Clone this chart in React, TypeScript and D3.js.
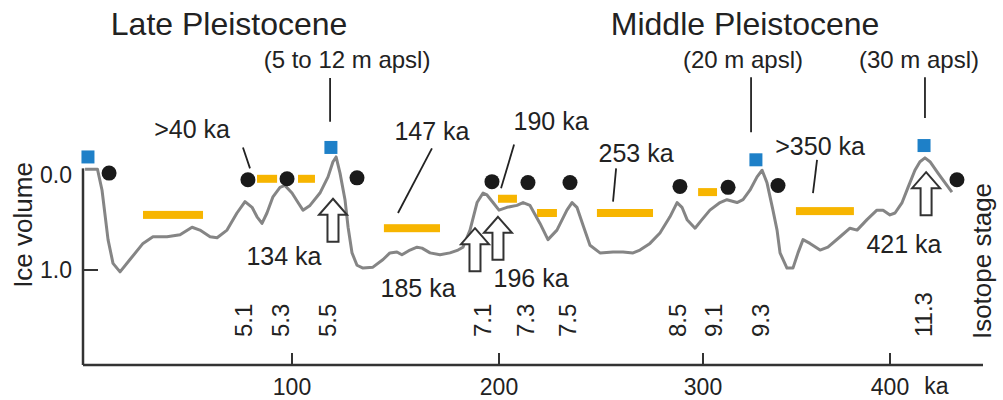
import React from "react";
import * as d3 from "d3";

// ice volume curve: [age ka, relative ice volume]
const curve: [number, number][] = [
  [0, -0.06], [6, -0.06], [8.2, 0.16], [11.1, 0.68], [13.5, 0.93], [16.9, 1.02],
  [21.7, 0.89], [28, 0.72], [32.8, 0.65], [39.6, 0.65], [45.9, 0.63], [51.7, 0.55],
  [55.5, 0.58], [60.4, 0.65], [63.8, 0.66], [68.6, 0.58], [73.4, 0.4], [77.3, 0.28],
  [80.7, 0.34], [83.1, 0.44], [85.5, 0.51], [87.9, 0.4], [90.8, 0.23], [94.2, 0.13],
  [96.6, 0.11], [100, 0.19], [102.9, 0.29], [105.3, 0.37], [108.7, 0.32], [113.5, 0.19],
  [117.4, 0.02], [119.8, -0.14], [121.3, -0.19], [123.2, -0.02], [125.6, 0.26],
  [127.1, 0.55], [129, 0.82], [131.4, 0.95], [134.3, 0.98], [139.1, 0.97], [144, 0.89],
  [147.3, 0.82], [150.7, 0.81], [153.1, 0.84], [157, 0.79], [160.4, 0.76], [162.8, 0.77],
  [166.7, 0.82], [171.5, 0.84], [176.3, 0.82], [180.2, 0.79], [182.6, 0.76], [186, 0.58],
  [189.4, 0.29], [192.3, 0.19], [194.2, 0.21], [197.1, 0.29], [200, 0.37], [203.9, 0.34],
  [208.8, 0.32], [211.8, 0.29], [215.2, 0.32], [220.1, 0.51], [224, 0.68], [228.4, 0.58],
  [233.3, 0.37], [235.8, 0.29], [238.2, 0.34], [241.2, 0.53], [244.6, 0.74], [249.5, 0.82],
  [255.9, 0.81], [260.8, 0.81], [265.7, 0.82], [269.1, 0.79], [274, 0.72], [278.9, 0.61],
  [283.8, 0.44], [287.3, 0.29], [289.7, 0.34], [292.2, 0.47], [296.1, 0.56], [299.5, 0.47],
  [303.7, 0.37], [309.1, 0.29], [312.8, 0.26], [318.2, 0.29], [321.4, 0.26], [325.1, 0.16],
  [328.9, 0.02], [331.6, -0.05], [334.2, 0.08], [337.4, 0.37], [339.6, 0.58], [341.2, 0.82],
  [344.9, 0.98], [348.1, 0.98], [350.8, 0.82], [353.5, 0.68], [357.2, 0.72], [362.6, 0.79],
  [366.8, 0.76], [373.3, 0.65], [378.6, 0.56], [382.4, 0.58], [387.7, 0.47], [393, 0.37],
  [396.3, 0.37], [400, 0.42], [402.7, 0.4], [406.5, 0.29], [409.7, 0.13], [413.4, -0.05],
  [416.1, -0.14], [418.8, -0.18], [421.5, -0.14], [425.8, -0.02], [430.6, 0.11], [433.3, 0.18],
];

// highstand markers
const blueSquares: [number, number][] = [[1.4, -0.19], [118.8, -0.29], [328.3, -0.16], [418.3, -0.31]];
const blackDots: [number, number][] = [
  [11.6, -0.02], [78.7, 0.05], [97.6, 0.04], [131.4, 0.03], [196.6, 0.07], [214.2, 0.08],
  [234.8, 0.08], [288.7, 0.12], [313.4, 0.13], [340.1, 0.11], [436, 0.05],
];
// dated ranges: [from ka, to ka, level]
const orangeBars: [number, number, number][] = [
  [28, 57, 0.42], [83.1, 92.8, 0.04], [102.9, 111.1, 0.04], [144.4, 171.5, 0.56],
  [199.5, 208.8, 0.25], [218.6, 228.4, 0.4], [248, 275.5, 0.4], [297.6, 307.5, 0.18],
  [349.7, 380.7, 0.38],
];
// arrows: [ka, tip level]
const arrows: [number, number][] = [[119.8, 0.25], [188.4, 0.56], [199.5, 0.44], [419.4, -0.03]];

const ageLabels: { text: string; ka: number; v: number }[] = [
  { text: ">40 ka", ka: 51.7, v: -0.39 },
  { text: "147 ka", ka: 167.6, v: -0.37 },
  { text: "190 ka", ka: 225.5, v: -0.47 },
  { text: "253 ka", ka: 267.2, v: -0.14 },
  { text: ">350 ka", ka: 362.6, v: -0.21 },
  { text: "134 ka", ka: 96.1, v: 0.95 },
  { text: "185 ka", ka: 160.9, v: 1.28 },
  { text: "196 ka", ka: 215.7, v: 1.18 },
  { text: "421 ka", ka: 407.5, v: 0.82 },
];
const leaders: [number, number, number, number][] = [
  [76.3, -0.29, 79.7, -0.07],
  [167.6, -0.28, 151.2, 0.4],
  [207.4, -0.32, 201, 0.14],
  [257.4, -0.07, 255.9, 0.28],
  [361, -0.16, 358.8, 0.19],
  [118.4, -1.02, 118.4, -0.56],
  [325.7, -1.03, 325.7, -0.45],
  [418.8, -1.03, 418.8, -0.6],
];
const apslLabels: { text: string; ka: number }[] = [
  { text: "(5 to 12 m apsl)", ka: 126.6 },
  { text: "(20 m apsl)", ka: 321.4 },
  { text: "(30 m apsl)", ka: 415.6 },
];
const periods: { text: string; ka: number }[] = [
  { text: "Late Pleistocene", ka: 69.6 },
  { text: "Middle Pleistocene", ka: 322.5 },
];
const stages: { text: string; ka: number }[] = [
  { text: "5.1", ka: 76.3 }, { text: "5.3", ka: 94.2 }, { text: "5.5", ka: 116.9 },
  { text: "7.1", ka: 191.8 }, { text: "7.3", ka: 212.7 }, { text: "7.5", ka: 233.3 },
  { text: "8.5", ka: 287.3 }, { text: "9.1", ka: 305.3 }, { text: "9.3", ka: 330.5 },
  { text: "11.3", ka: 417.7 },
];
const xTicks = [100, 200, 300, 400];
const yTicks = [{ v: 0, label: "0.0" }, { v: 1, label: "1.0" }];

const W = 1003;
const H = 400;
const FONT = "'Liberation Sans', Arial, sans-serif";
const INK = "#222";

export default function App() {
  const x = d3.scaleLinear().domain([-1, 100, 200, 300, 400, 450]).range([83, 292, 499, 703, 890, 983]);
  const y = d3.scaleLinear().domain([0, 1]).range([175, 270]);
  const axisY = y(2.0);

  const line = d3.line<[number, number]>().x(d => x(d[0])).y(d => y(d[1]));

  const arrowPath = (tx: number, ty: number) =>
    `M${tx},${ty} L${tx + 14},${ty + 16} L${tx + 5.5},${ty + 16} L${tx + 5.5},${ty + 43} L${tx - 5.5},${ty + 43} L${tx - 5.5},${ty + 16} L${tx - 14},${ty + 16} Z`;

  return (
    <svg width={W} height={H} style={{ position: "absolute", left: 0, top: 0, background: "#fff" }} fontFamily={FONT}>
      {/* axes */}
      <line x1={x(-1)} x2={x(-1)} y1={y(-0.07)} y2={axisY} stroke="#333" strokeWidth={2.5} />
      <line x1={x(-1)} x2={x(450)} y1={axisY} y2={axisY} stroke="#333" strokeWidth={2.5} />
      {xTicks.map(t => (
        <g key={t}>
          <line x1={x(t)} x2={x(t)} y1={axisY} y2={axisY - 12} stroke="#333" strokeWidth={2} />
          <text x={x(t)} y={395} textAnchor="middle" fontSize={23} fill={INK}>{t}</text>
        </g>
      ))}
      <text x={x(425)} y={394} textAnchor="middle" fontSize={23} fill={INK}>ka</text>
      {yTicks.map(t => (
        <g key={t.label}>
          {t.v > 0 && <line x1={x(-1)} x2={x(-1) + 15} y1={y(t.v)} y2={y(t.v)} stroke="#333" strokeWidth={2} />}
          <text x={72} y={y(t.v) + 8} textAnchor="end" fontSize={23} fill={INK}>{t.label}</text>
        </g>
      ))}
      <text transform={`translate(32,${225}) rotate(-90)`} textAnchor="middle" fontSize={26} fill={INK}>Ice volume</text>
      <text transform={`translate(991,${261}) rotate(-90)`} textAnchor="middle" fontSize={26} fill={INK}>Isotope stage</text>

      {/* orange dated ranges */}
      {orangeBars.map((b, i) => (
        <rect key={i} x={x(b[0])} y={y(b[2]) - 4} width={x(b[1]) - x(b[0])} height={8} fill="#f7b500" />
      ))}

      {/* curve */}
      <path d={line(curve) ?? ""} fill="none" stroke="#858585" strokeWidth={3} strokeLinejoin="round" />

      {blueSquares.map((d, i) => (
        <rect key={i} x={x(d[0]) - 6.5} y={y(d[1]) - 6.5} width={13} height={13} fill="#1e80c8" />
      ))}
      {blackDots.map((d, i) => (
        <circle key={i} cx={x(d[0])} cy={y(d[1])} r={7.5} fill="#1a1a1a" />
      ))}
      {arrows.map((a, i) => (
        <path key={i} d={arrowPath(x(a[0]), y(a[1]))} fill="#fff" stroke="#333" strokeWidth={2} strokeLinejoin="miter" />
      ))}

      {leaders.map((l, i) => (
        <line key={i} x1={x(l[0])} y1={y(l[1])} x2={x(l[2])} y2={y(l[3])} stroke={INK} strokeWidth={1.8} />
      ))}
      {ageLabels.map(l => (
        <text key={l.text} x={x(l.ka)} y={y(l.v)} textAnchor="middle" fontSize={25} fill={INK}>{l.text}</text>
      ))}
      {apslLabels.map(l => (
        <text key={l.text} x={x(l.ka)} y={y(-1.13)} textAnchor="middle" fontSize={24} fill={INK}>{l.text}</text>
      ))}
      {periods.map(p => (
        <text key={p.text} x={x(p.ka)} y={y(-1.47)} textAnchor="middle" fontSize={32} fill={INK}>{p.text}</text>
      ))}
      {stages.map(s => (
        <text key={s.text} transform={`translate(${x(s.ka) + 9},337) rotate(-90)`} fontSize={24} fill={INK}>{s.text}</text>
      ))}
    </svg>
  );
}
